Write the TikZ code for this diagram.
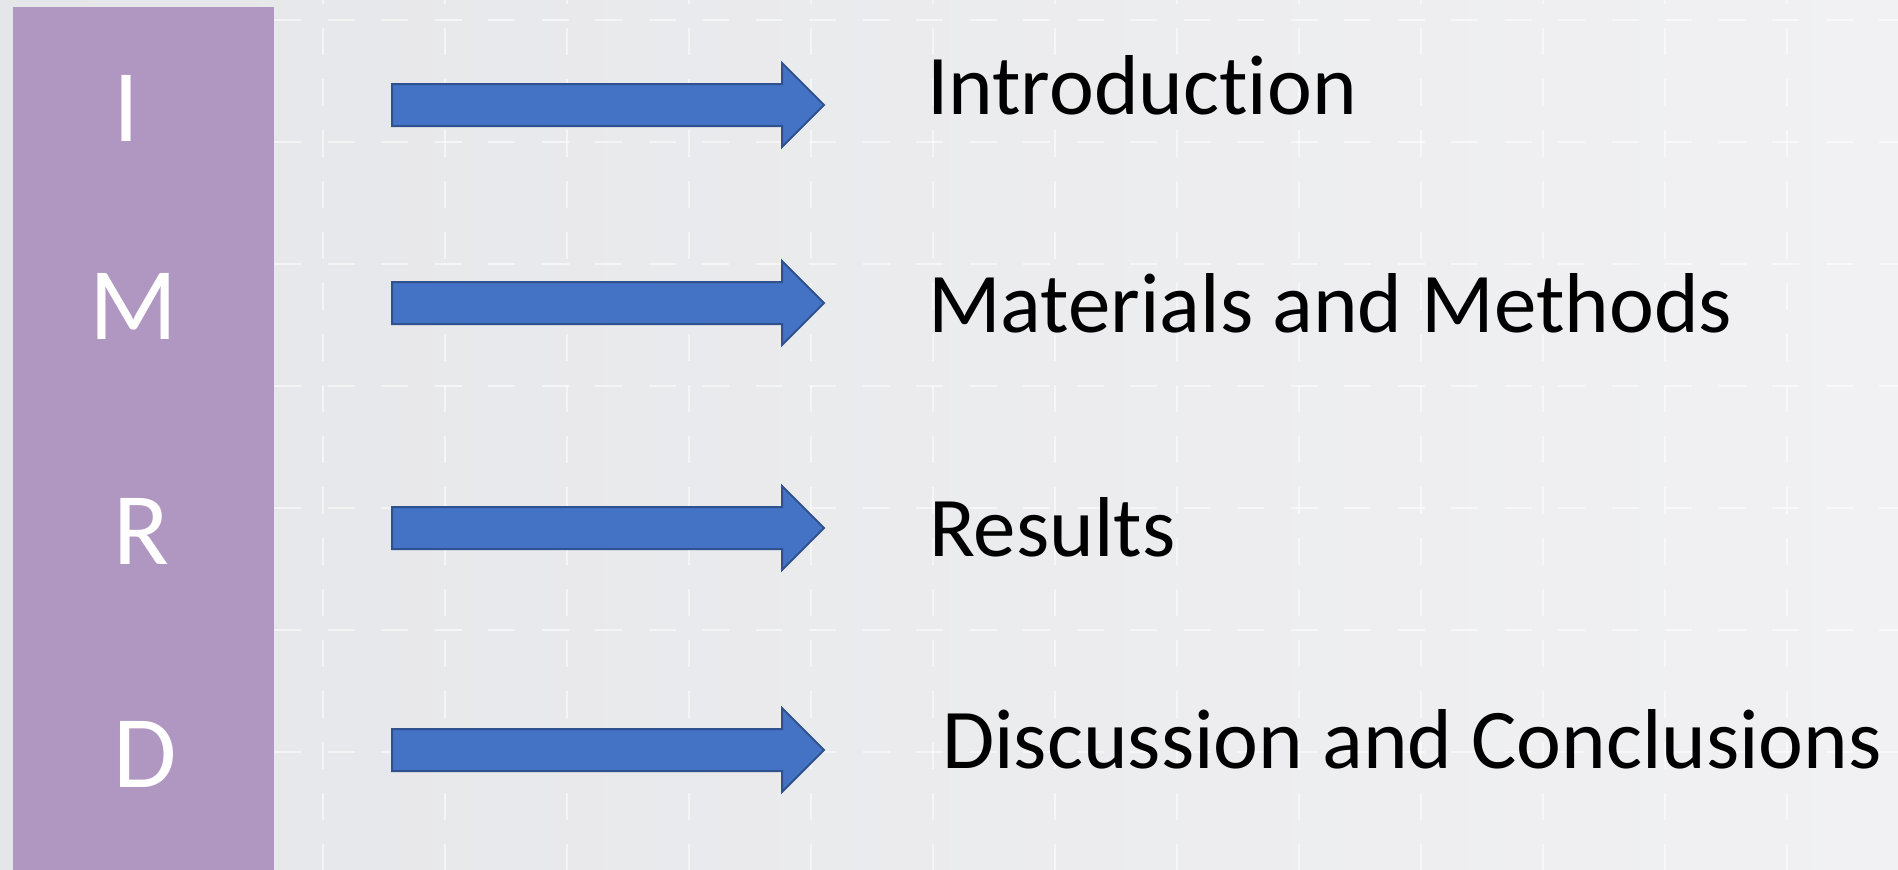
\documentclass[tikz,border=0pt]{standalone}
\usepackage{fontspec}
\setmainfont{Carlito}[Ligatures=NoCommon]
\usetikzlibrary{positioning,shapes.arrows}

\definecolor{imrdpurple}{RGB}{175,151,194}
\definecolor{arrowfill}{RGB}{68,114,196}
\definecolor{arrowline}{RGB}{47,82,143}
\definecolor{bgleft}{RGB}{229,230,233}
\definecolor{bgright}{RGB}{241,241,243}

\tikzset{
  bigarrow/.style={single arrow, fill=arrowfill, draw=arrowline, line width=2pt,
    inner xsep=0pt, inner ysep=20pt, single arrow head extend=21pt,
    single arrow tip angle=90, minimum height=432pt, minimum width=0pt, anchor=tail},
  letter/.style={text=white, inner sep=0pt, anchor=base west, font=\fontsize{103}{120}\selectfont},
  heading/.style={inner sep=0pt, anchor=base west, font=\fontsize{85}{100}\selectfont},
  gridline/.style={white, opacity=0.55, line width=1.5pt}
}

\begin{document}
\begin{tikzpicture}[x=1pt,y=-1pt]
\useasboundingbox (0,0) rectangle (1898,870);
\shade[left color=bgleft, right color=bgright] (0,0) rectangle (1898,870);
% faint slide grid
\foreach \gy in {20,142,...,752}
  \draw[gridline, dash pattern=on 27pt off 26.5pt] (274,\gy) -- (1898,\gy);
\foreach \gx in {323,445,...,1787}
  \draw[gridline, dash pattern=on 27pt off 24pt, dash phase=-28pt] (\gx,0) -- (\gx,870);
\fill[imrdpurple] (13,7) rectangle (274,870);
% column letters
\node[letter] (li) at (113,141) {I};
\node[letter] (lm) at (89,339) {M};
\node[letter] (lr) at (113,564) {R};
\node[letter] (ld) at (113,787) {D};
% arrows
\node[bigarrow] (ai) at (391,105) {};
\node[bigarrow] (am) at (391,303) {};
\node[bigarrow] (ar) at (391,528) {};
\node[bigarrow] (ad) at (391,750) {};
% section names
\node[heading] (ti) at (927,114) {Introduction};
\node[heading] (tm) at (928,332) {Materials and Methods};
\node[heading] (tr) at (929,556) {Results};
\node[heading] (td) at (942,768) {Discussion and Conclusions};
\end{tikzpicture}
\end{document}
